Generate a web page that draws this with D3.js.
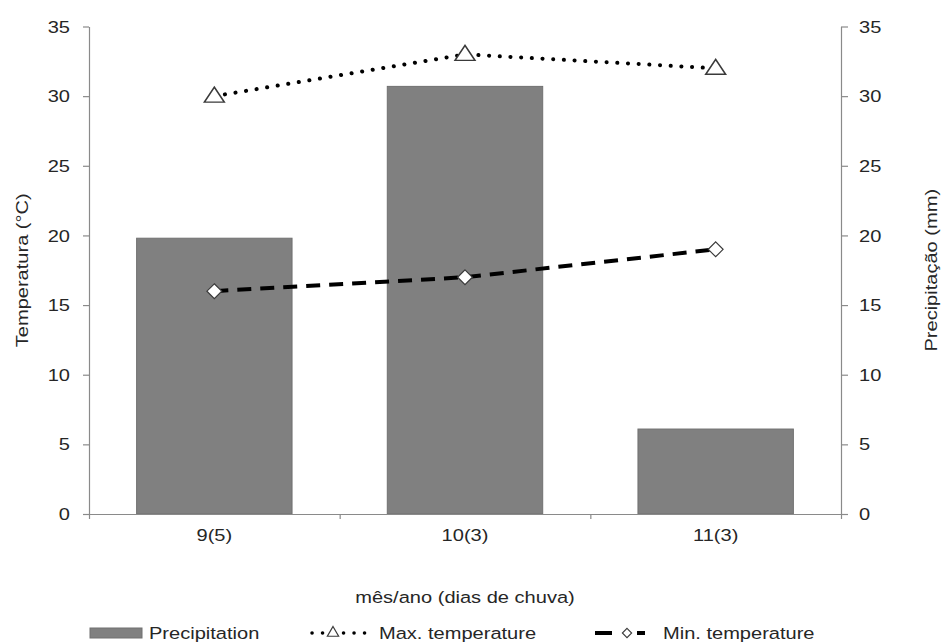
<!DOCTYPE html>
<html>
<head>
<meta charset="utf-8">
<script src="https://cdn.jsdelivr.net/npm/d3@7"></script>
<style>
  body { margin: 0; background: #fff; }
  svg text { font-family: "Liberation Sans", Arial, sans-serif; fill: #262626; }
</style>
</head>
<body>
<svg id="chart" width="943" height="644"></svg>
<script>
'use strict';

// data
var categories = ["9(5)", "10(3)", "11(3)"];
var precipitation = [19.8, 30.7, 6.1];
var maxTemp = [30, 33, 32];
var minTemp = [16, 17, 19];
var yTicks = [0, 5, 10, 15, 20, 25, 30, 35];

var plotLeft = 89, plotRight = 841, plotTop = 26.5, plotBottom = 514;
var sx = 1.18;          // text in the reference is stretched sideways
var fs = "17px";

var svg = d3.select("#chart");

var x = d3.scaleBand().domain(categories).range([plotLeft, plotRight]).padding(0);
var yT = d3.scaleLinear().domain([0, 35]).range([plotBottom, plotTop]);
var yP = d3.scaleLinear().domain([0, 35]).range([plotBottom, plotTop]);

function stretchAt(sel, px, py) {
  sel.attr("transform", "translate(" + px + "," + py + ") scale(" + sx + ",1)");
}

// bars
var bw = x.bandwidth();
svg.append("g").selectAll("rect")
  .data(precipitation)
  .enter().append("rect")
  .attr("x", function(d, i) { return x(categories[i]) + bw * 0.19; })
  .attr("width", bw * 0.62)
  .attr("y", function(d) { return yP(d); })
  .attr("height", function(d) { return yP(0) - yP(d); })
  .attr("fill", "#808080")
  .attr("stroke", "#707070")
  .attr("stroke-width", 1);

// axes
var axisColor = "#8a8a8a";

var gl = svg.append("g").attr("transform", "translate(" + plotLeft + ",0)")
  .call(d3.axisLeft(yT).tickValues(yTicks).tickSize(6).tickSizeOuter(0));
gl.selectAll("text").attr("x", 0).attr("dy", "0.33em")
  .attr("transform", "translate(-19,0) scale(" + sx + ",1)");

var gr = svg.append("g").attr("transform", "translate(" + plotRight + ",0)")
  .call(d3.axisRight(yP).tickValues(yTicks).tickSize(7).tickSizeOuter(0));
gr.selectAll("text").attr("x", 0).attr("dy", "0.33em")
  .attr("transform", "translate(18,0) scale(" + sx + ",1)");

// bottom axis: labels centred on bands, ticks on the band edges
var gb = svg.append("g").attr("transform", "translate(0," + plotBottom + ")")
  .call(d3.axisBottom(x).tickSize(0).tickSizeOuter(0));
gb.selectAll("text").attr("y", 0).attr("dy", "0.33em")
  .attr("transform", "translate(0,21) scale(" + sx + ",1)");

var edges = d3.scaleLinear().domain([0, categories.length]).range([plotLeft, plotRight]);
svg.append("g").attr("transform", "translate(0," + plotBottom + ")")
  .call(d3.axisBottom(edges).tickValues([0, 1, 2, 3]).tickFormat("").tickSize(5).tickSizeOuter(0))
  .select(".domain").remove();

svg.selectAll(".domain, .tick line").attr("stroke", axisColor).attr("stroke-width", 1.2);
svg.selectAll(".tick text").style("font-size", fs).attr("font-family", null).attr("fill", "#262626");

// lines
function cx(i) { return x(categories[i]) + bw / 2; }

var tempLine = d3.line().x(function(d, i) { return cx(i); }).y(function(d) { return yT(d); });
svg.append("path").datum(maxTemp)
  .attr("d", tempLine)
  .attr("fill", "none")
  .attr("stroke", "#000")
  .attr("stroke-width", 4)
  .attr("stroke-linecap", "round")
  .attr("stroke-dasharray", "0.1 10.6");

svg.append("path").datum(minTemp)
  .attr("d", tempLine)
  .attr("fill", "none")
  .attr("stroke", "#000")
  .attr("stroke-width", 4)
  .attr("stroke-dasharray", "14 9");

// markers
var tri = d3.symbol().type(d3.symbolTriangle).size(130);
svg.append("g").selectAll("path")
  .data(maxTemp)
  .enter().append("path")
  .attr("d", tri)
  .attr("transform", function(d, i) { return "translate(" + cx(i) + "," + (yT(d) + 1) + ") scale(1.15,1)"; })
  .attr("fill", "#fff")
  .attr("stroke", "#3a3a3a")
  .attr("stroke-width", 1.4);

var dia = d3.symbol().type(d3.symbolDiamond2).size(140);
svg.append("g").selectAll("path")
  .data(minTemp)
  .enter().append("path")
  .attr("d", dia)
  .attr("transform", function(d, i) { return "translate(" + cx(i) + "," + yT(d) + ")"; })
  .attr("fill", "#fff")
  .attr("stroke", "#3a3a3a")
  .attr("stroke-width", 1.2);

// axis titles
var t1 = svg.append("g");
t1.append("text").attr("text-anchor", "middle").attr("dy", "0.35em")
  .style("font-size", fs).text("Temperatura (°C)");
t1.attr("transform", "translate(22," + ((plotTop + plotBottom) / 2) + ") rotate(-90) scale(" + sx + ",1)");

var t2 = svg.append("g");
t2.append("text").attr("text-anchor", "middle").attr("dy", "0.35em")
  .style("font-size", fs).text("Precipitação (mm)");
t2.attr("transform", "translate(931," + ((plotTop + plotBottom) / 2) + ") rotate(-90) scale(" + sx + ",1)");

svg.append("text").attr("text-anchor", "middle").attr("dy", "0.35em")
  .style("font-size", fs).text("mês/ano (dias de chuva)")
  .call(stretchAt, (plotLeft + plotRight) / 2, 597);

// legend
var ly = 633;
var lg = svg.append("g");
lg.append("rect").attr("x", 90).attr("y", ly - 5).attr("width", 52).attr("height", 10)
  .attr("fill", "#808080").attr("stroke", "#707070");
lg.append("text").attr("dy", "0.35em").style("font-size", fs).text("Precipitation")
  .call(stretchAt, 149, ly);

lg.append("line").attr("x1", 312).attr("x2", 366).attr("y1", ly).attr("y2", ly)
  .attr("stroke", "#000").attr("stroke-width", 3.5)
  .attr("stroke-linecap", "round").attr("stroke-dasharray", "0.1 10.4");
lg.append("path").attr("d", d3.symbol().type(d3.symbolTriangle).size(55))
  .attr("transform", "translate(333," + ly + ")")
  .attr("fill", "#fff").attr("stroke", "#3a3a3a").attr("stroke-width", 1.2);
lg.append("text").attr("dy", "0.35em").style("font-size", fs).text("Max. temperature")
  .call(stretchAt, 379, ly);

lg.append("line").attr("x1", 595).attr("x2", 645).attr("y1", ly).attr("y2", ly)
  .attr("stroke", "#000").attr("stroke-width", 4).attr("stroke-dasharray", "17 25 8");
lg.append("path").attr("d", d3.symbol().type(d3.symbolDiamond2).size(55))
  .attr("transform", "translate(627," + ly + ")")
  .attr("fill", "#fff").attr("stroke", "#3a3a3a").attr("stroke-width", 1.1);
lg.append("text").attr("dy", "0.35em").style("font-size", fs).text("Min. temperature")
  .call(stretchAt, 663, ly);
</script>
</body>
</html>
